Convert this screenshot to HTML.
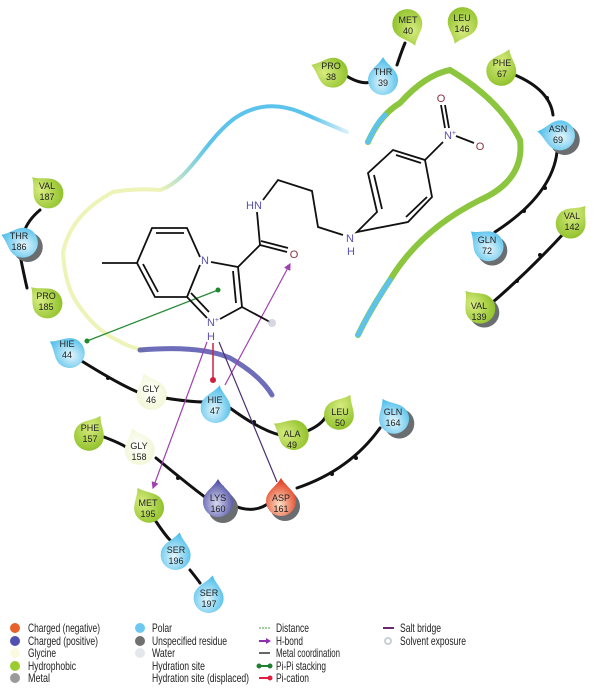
<!DOCTYPE html>
<html><head><meta charset="utf-8"><style>
body{margin:0;background:#fff;width:600px;height:690px;overflow:hidden}
svg text{font-family:"Liberation Sans",sans-serif}
.r{font-size:9px;fill:#222;text-anchor:middle}
.lg{font-size:12px;fill:#222}
.a{font-size:11px;text-anchor:middle}
</style></head><body>
<svg width="600" height="690" viewBox="0 0 600 690" xmlns="http://www.w3.org/2000/svg">
<defs>
<radialGradient id="gH" cx="40%" cy="40%" r="70%"><stop offset="0" stop-color="#d8ec80"/><stop offset="1" stop-color="#8cbf26"/></radialGradient>
<radialGradient id="gP" cx="45%" cy="65%" r="70%"><stop offset="0" stop-color="#e6f6fc"/><stop offset="1" stop-color="#36b6e8"/></radialGradient>
<radialGradient id="gG" cx="50%" cy="50%" r="70%"><stop offset="0" stop-color="#fff"/><stop offset="1" stop-color="#eef4c8"/></radialGradient>
<radialGradient id="gK" cx="45%" cy="65%" r="70%"><stop offset="0" stop-color="#d8d8f0"/><stop offset="1" stop-color="#3a3a9a"/></radialGradient>
<radialGradient id="gD" cx="45%" cy="70%" r="70%"><stop offset="0" stop-color="#fbe0c8"/><stop offset="1" stop-color="#e03010"/></radialGradient>
<linearGradient id="gc" gradientUnits="userSpaceOnUse" x1="160" y1="190" x2="347" y2="132"><stop offset="0" stop-color="#eef3b8"/><stop offset="0.3" stop-color="#5cc4ec"/><stop offset="0.85" stop-color="#5cc4ec"/><stop offset="1" stop-color="#d8f0fa"/></linearGradient>
<path id="td" d="M0,-21 C5,-12 15,-8 15,2 A15,15 0 1 1 -15,2 C-15,-8 -5,-12 0,-21Z"/>
<marker id="ar" markerWidth="6" markerHeight="6" refX="5" refY="3" orient="auto"><path d="M0,0 L6,3 L0,6Z" fill="#a040b0"/></marker>
</defs>

<!-- pocket outlines -->
<path d="M160,190 C190,180 205,140 235,118 Q265,98 300,112 L347,132" fill="none" stroke="url(#gc)" stroke-width="4" stroke-linecap="round"/>
<path d="M368,142 Q380,115 400,103 Q425,75 450,70 Q500,100 520,140 Q525,180 480,200 Q420,230 390,280 Q370,310 358,335" fill="none" stroke="#8cc63f" stroke-width="6" stroke-linecap="round"/>
<path d="M368,142 Q375,125 385,115" fill="none" stroke="#5cc4ec" stroke-width="5" stroke-linecap="round"/>
<path d="M390,280 Q370,310 358,335" fill="none" stroke="#5cc4ec" stroke-width="5" stroke-linecap="round"/>
<path d="M160,190 Q135,188 113,192 Q70,215 63,253 Q65,285 77,303 Q95,330 117,340 Q130,348 145,350" fill="none" stroke="#eef3b8" stroke-width="4"/>
<path d="M140,350 Q200,345 230,358 Q260,375 272,395" fill="none" stroke="#4a48a8" stroke-width="5" stroke-linecap="round" opacity="0.8"/>

<!-- backbone -->
<g fill="none" stroke="#111" stroke-width="3" stroke-linecap="round">
<path d="M40,210 Q28,220 24,232"/><path d="M20,255 Q24,275 27,288"/>
<path d="M345,75 Q360,85 372,82"/><path d="M397,65 Q402,50 405,43"/>
<path d="M515,75 Q550,90 553,115"/><path d="M557,152 Q552,195 495,232"/>
<path d="M565,232 Q530,270 493,302"/>
<path d="M80,360 Q120,385 140,393"/><path d="M165,398 Q190,402 205,402"/>
<path d="M230,408 Q260,430 280,435"/><path d="M305,432 Q322,425 326,416"/>
<path d="M104,437 Q125,445 130,450"/><path d="M156,458 Q195,490 205,497"/>
<path d="M232,505 Q255,515 270,502"/><path d="M297,488 Q350,470 380,428"/>
<path d="M155,520 Q165,535 170,540"/><path d="M190,570 Q198,580 200,583"/>
</g>
<g fill="#111"><circle cx="547" cy="98" r="2"/><circle cx="545" cy="188" r="2"/><circle cx="524" cy="211" r="2"/><circle cx="540" cy="255" r="2"/><circle cx="517" cy="281" r="2"/><circle cx="108" cy="378" r="2"/><circle cx="254" cy="422" r="2"/><circle cx="178" cy="478" r="2"/><circle cx="332" cy="474" r="2"/><circle cx="356" cy="458" r="2"/></g>

<!-- interactions -->
<line x1="87" y1="341" x2="218" y2="290" stroke="#2a8a3a" stroke-width="1.3"/>
<circle cx="87" cy="341" r="2.5" fill="#1a8a2a"/><circle cx="218" cy="290" r="2.5" fill="#1a8a2a"/>
<line x1="213" y1="343" x2="213" y2="380" stroke="#d02040" stroke-width="1.5"/><circle cx="213" cy="380" r="3" fill="#d02040"/>
<line x1="225" y1="385" x2="290" y2="264" stroke="#a040b0" stroke-width="1.2" marker-end="url(#ar)"/>
<line x1="207" y1="342" x2="153" y2="488" stroke="#a040b0" stroke-width="1.2" marker-end="url(#ar)"/>
<line x1="219" y1="342" x2="277" y2="482" stroke="#4a3070" stroke-width="1.2"/>

<!-- ligand -->
<g fill="none" stroke="#111" stroke-width="1.8">
<path d="M102,263 L137,263 L152,228 L187,228 L200,257"/>
<path d="M156,233 L184,233"/>
<path d="M137,263 L155,297 L187,297 L207,318"/><path d="M143,264 L158,292"/><path d="M191,293 L209,312"/>
<path d="M187,297 L200,265"/>
<path d="M211,262 L238,267 L242,307 L220,319"/><path d="M233,271 L236,303"/>
<path d="M242,307 L270,322"/>
<path d="M238,267 L260,245 L287,252 M261,241 L288,248"/>
<path d="M260,245 L257,212"/>
<path d="M263,200 L278,180 L312,191 L318,227 L343,235"/>
<path d="M357,232 L377,212 L368,173 L393,150 L425,160 L432,197 L408,222 Z"/>
<path d="M374,175 L382,209 M396,155 L421,163 M427,197 L406,217"/>
<path d="M425,160 L443,142"/><path d="M445,128 L441,105 M449,128 L445,105"/><path d="M456,136 L474,143"/>
</g>
<circle cx="272" cy="323" r="4" fill="#ccd" opacity="0.8"/>
<g class="a" fill="#5a50b0">
<text x="205" y="264">N</text><text x="213" y="326">N<tspan font-size="7" dy="-4">+</tspan></text><text x="211" y="340">H</text>
<text x="254" y="209">HN</text><text x="350" y="242">N</text><text x="351" y="255">H</text>
<text x="450" y="139">N<tspan font-size="7" dy="-4">+</tspan></text>
</g>
<g class="a" fill="#8a3040"><text x="294" y="258">O</text><text x="441" y="102">O</text><text x="480" y="150">O</text></g>

<!-- residues -->
<g fill="#6a6e70">
<use href="#td" transform="translate(26,246) rotate(-60)"/>
<use href="#td" transform="translate(563,139) rotate(-60)"/>
<use href="#td" transform="translate(491,249) rotate(-40)"/>
<use href="#td" transform="translate(483,311) rotate(-40)"/>
<use href="#td" transform="translate(398,422) rotate(-40)"/>
<use href="#td" transform="translate(223,506) rotate(0)"/>
<use href="#td" transform="translate(285,504) rotate(0)"/>
</g>
<use href="#td" transform="translate(47,192) rotate(-45)" fill="url(#gH)"/>
<use href="#td" transform="translate(21,242) rotate(-70)" fill="url(#gP)"/>
<use href="#td" transform="translate(46,302) rotate(-45)" fill="url(#gH)"/>
<use href="#td" transform="translate(331,72) rotate(-70)" fill="url(#gH)"/>
<use href="#td" transform="translate(383,78) rotate(0)" fill="url(#gP)"/>
<use href="#td" transform="translate(408,26) rotate(160)" fill="url(#gH)"/>
<use href="#td" transform="translate(462,24) rotate(200)" fill="url(#gH)"/>
<use href="#td" transform="translate(502,69) rotate(20)" fill="url(#gH)"/>
<use href="#td" transform="translate(558,135) rotate(-80)" fill="url(#gP)"/>
<use href="#td" transform="translate(487,245) rotate(-50)" fill="url(#gP)"/>
<use href="#td" transform="translate(572,222) rotate(40)" fill="url(#gH)"/>
<use href="#td" transform="translate(479,307) rotate(-40)" fill="url(#gH)"/>
<use href="#td" transform="translate(68,352) rotate(-60)" fill="url(#gP)"/>
<use href="#td" transform="translate(151,393) rotate(-20)" fill="url(#gG)"/>
<use href="#td" transform="translate(216,406) rotate(10)" fill="url(#gP)"/>
<use href="#td" transform="translate(292,434) rotate(-60)" fill="url(#gH)"/>
<use href="#td" transform="translate(340,413) rotate(30)" fill="url(#gH)"/>
<use href="#td" transform="translate(393,417) rotate(-30)" fill="url(#gP)"/>
<use href="#td" transform="translate(90,434) rotate(30)" fill="url(#gH)"/>
<use href="#td" transform="translate(139,448) rotate(-20)" fill="url(#gG)"/>
<use href="#td" transform="translate(218,500) rotate(0)" fill="url(#gK)"/>
<use href="#td" transform="translate(281,499) rotate(0)" fill="url(#gD)"/>
<use href="#td" transform="translate(148,506) rotate(-30)" fill="url(#gH)"/>
<use href="#td" transform="translate(176,553) rotate(10)" fill="url(#gP)"/>
<use href="#td" transform="translate(209,596) rotate(10)" fill="url(#gP)"/>

<g class="r">
<text x="47" y="189">VAL</text><text x="47" y="200">187</text>
<text x="19" y="239">THR</text><text x="19" y="250">186</text>
<text x="46" y="299">PRO</text><text x="46" y="310">185</text>
<text x="331" y="69">PRO</text><text x="331" y="80">38</text>
<text x="383" y="75">THR</text><text x="383" y="86">39</text>
<text x="408" y="23">MET</text><text x="408" y="34">40</text>
<text x="462" y="21">LEU</text><text x="462" y="32">146</text>
<text x="502" y="66">PHE</text><text x="502" y="77">67</text>
<text x="558" y="132">ASN</text><text x="558" y="143">69</text>
<text x="487" y="243">GLN</text><text x="487" y="254">72</text>
<text x="572" y="219">VAL</text><text x="572" y="230">142</text>
<text x="479" y="309">VAL</text><text x="479" y="320">139</text>
<text x="67" y="347">HIE</text><text x="67" y="358">44</text>
<text x="151" y="392">GLY</text><text x="151" y="403">46</text>
<text x="215" y="403">HIE</text><text x="215" y="414">47</text>
<text x="292" y="437">ALA</text><text x="292" y="448">49</text>
<text x="340" y="415">LEU</text><text x="340" y="426">50</text>
<text x="393" y="415">GLN</text><text x="393" y="426">164</text>
<text x="90" y="431">PHE</text><text x="90" y="442">157</text>
<text x="139" y="449">GLY</text><text x="139" y="460">158</text>
<text x="218" y="501">LYS</text><text x="218" y="512">160</text>
<text x="281" y="501">ASP</text><text x="281" y="512">161</text>
<text x="148" y="506">MET</text><text x="148" y="517">195</text>
<text x="176" y="553">SER</text><text x="176" y="564">196</text>
<text x="209" y="596">SER</text><text x="209" y="607">197</text>
</g>

<!-- legend -->
<circle cx="15" cy="628" r="5" fill="#e8602a"/><circle cx="15" cy="641" r="5" fill="#5050b0"/><circle cx="15" cy="653" r="5" fill="#fafae0"/><circle cx="15" cy="666" r="5" fill="#9ccc30"/><circle cx="15" cy="678" r="5" fill="#9a9a9a"/>
<circle cx="140" cy="628" r="5" fill="#6cc8f0"/><circle cx="140" cy="641" r="5" fill="#707070"/><circle cx="140" cy="653" r="5" fill="#e4e8ec"/>
<line x1="259" y1="628" x2="270" y2="628" stroke="#40a040" stroke-dasharray="2,1"/>
<line x1="259" y1="641" x2="268" y2="641" stroke="#9030b0" stroke-width="2"/><path d="M266,638 L271,641 L266,644Z" fill="#9030b0"/>
<line x1="259" y1="653" x2="270" y2="653" stroke="#666" stroke-width="2"/>
<line x1="259" y1="666" x2="270" y2="666" stroke="#208030" stroke-width="2"/><circle cx="259" cy="666" r="2.5" fill="#208030"/><circle cx="270" cy="666" r="2.5" fill="#208030"/>
<line x1="259" y1="678" x2="270" y2="678" stroke="#e02040" stroke-width="2"/><circle cx="270" cy="678" r="2.5" fill="#e02040"/>
<line x1="383" y1="628" x2="394" y2="628" stroke="#6a2a70" stroke-width="2"/>
<circle cx="388" cy="641" r="3" fill="none" stroke="#c8d0d4" stroke-width="2"/>
<g class="lg">
<text x="28" y="632" textLength="72" lengthAdjust="spacingAndGlyphs">Charged (negative)</text>
<text x="28" y="645" textLength="70" lengthAdjust="spacingAndGlyphs">Charged (positive)</text>
<text x="28" y="657" textLength="28" lengthAdjust="spacingAndGlyphs">Glycine</text>
<text x="28" y="670" textLength="48" lengthAdjust="spacingAndGlyphs">Hydrophobic</text>
<text x="28" y="682" textLength="22" lengthAdjust="spacingAndGlyphs">Metal</text>
<text x="152" y="632" textLength="20" lengthAdjust="spacingAndGlyphs">Polar</text>
<text x="152" y="645" textLength="75" lengthAdjust="spacingAndGlyphs">Unspecified residue</text>
<text x="152" y="657" textLength="23" lengthAdjust="spacingAndGlyphs">Water</text>
<text x="152" y="670" textLength="53" lengthAdjust="spacingAndGlyphs">Hydration site</text>
<text x="152" y="682" textLength="97" lengthAdjust="spacingAndGlyphs">Hydration site (displaced)</text>
<text x="276" y="632" textLength="33" lengthAdjust="spacingAndGlyphs">Distance</text>
<text x="276" y="645" textLength="27" lengthAdjust="spacingAndGlyphs">H-bond</text>
<text x="276" y="657" textLength="64" lengthAdjust="spacingAndGlyphs">Metal coordination</text>
<text x="276" y="670" textLength="50" lengthAdjust="spacingAndGlyphs">Pi-Pi stacking</text>
<text x="276" y="682" textLength="33" lengthAdjust="spacingAndGlyphs">Pi-cation</text>
<text x="400" y="632" textLength="41" lengthAdjust="spacingAndGlyphs">Salt bridge</text>
<text x="400" y="645" textLength="66" lengthAdjust="spacingAndGlyphs">Solvent exposure</text>
</g>
</svg>
</body></html>
